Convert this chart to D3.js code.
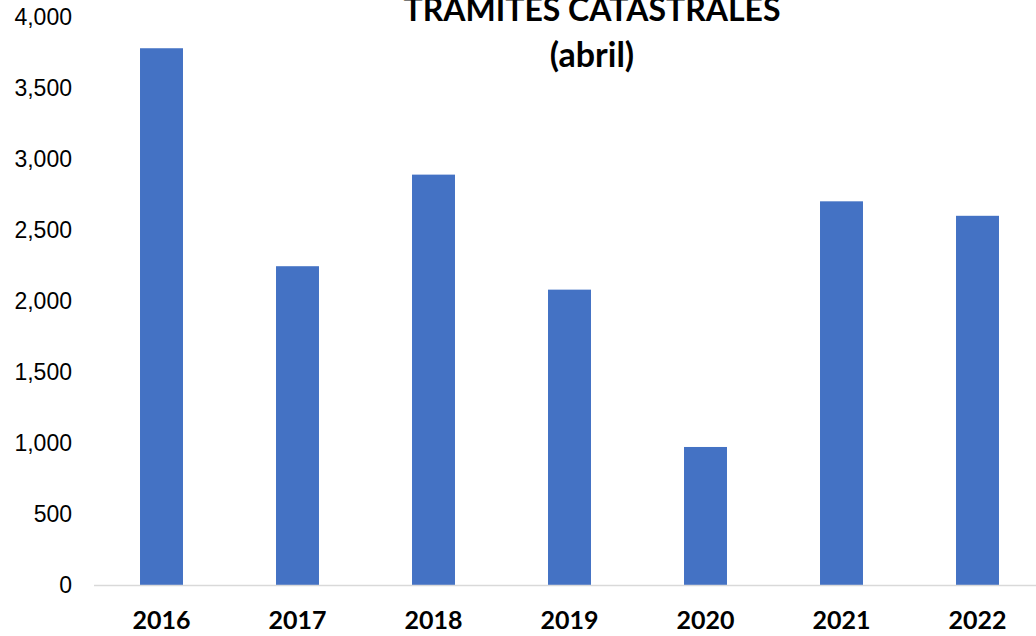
<!DOCTYPE html>
<html>
<head>
<meta charset="utf-8">
<script src="https://cdn.jsdelivr.net/npm/d3@7"></script>
<style>
  body { margin: 0; background: #fff; }
  svg { display: block; }
</style>
</head>
<body>
<svg></svg>
<script>
var width = 1036;
var height = 636;

var years = ["2016", "2017", "2018", "2019", "2020", "2021", "2022"];
var tramites = [3780, 2245, 2890, 2080, 972, 2702, 2600];
var yTicks = [0, 500, 1000, 1500, 2000, 2500, 3000, 3500, 4000];

var svg = d3.select("svg")
  .attr("width", width)
  .attr("height", height);

// plot area runs a bit past the right edge, like the cropped original
var x = d3.scaleBand()
  .domain(years)
  .range([93.5, 1045.5])
  .paddingInner(0.684)
  .paddingOuter(0.342);

var y = d3.scaleLinear()
  .domain([0, 4000])
  .range([585, 17]);

var yAxis = d3.axisLeft(y)
  .tickValues(yTicks)
  .tickSize(0)
  .tickPadding(22)
  .tickFormat(d3.format(","));

svg.append("g")
  .attr("transform", "translate(94,0)")
  .call(yAxis)
  .call(function(g) { g.select(".domain").remove(); })
  .selectAll("text")
    .style("font-family", "'Liberation Sans', Arial, sans-serif")
    .style("font-size", "23px")
    .style("fill", "#000");

svg.selectAll(".bar")
  .data(tramites)
  .enter().append("rect")
    .attr("class", "bar")
    .attr("x", function(d, i) { return x(years[i]); })
    .attr("width", x.bandwidth())
    .attr("y", function(d) { return y(d); })
    .attr("height", function(d) { return y(0) - y(d); })
    .style("fill", "#4472c4");

var xAxis = d3.axisBottom(x)
  .tickSize(0)
  .tickPadding(26);

svg.append("g")
  .attr("transform", "translate(0," + y(0) + ")")
  .call(xAxis)
  .call(function(g) {
    g.select(".domain").attr("stroke", "#d9d9d9").attr("stroke-width", 1.5);
  })
  .selectAll("text")
    .style("font-family", "Lato, 'Open Sans', sans-serif")
    .style("font-weight", "bold")
    .style("font-size", "25px")
    .style("fill", "#000");

var title = svg.append("text")
  .attr("x", 592)
  .attr("y", 21)
  .attr("text-anchor", "middle")
  .style("font-family", "Lato, 'Open Sans', sans-serif")
  .style("font-weight", "bold")
  .style("fill", "#000");

title.append("tspan").attr("x", 592).style("font-size", "32px").text("TRAMITES CATASTRALES");
title.append("tspan").attr("x", 592).attr("dy", 46).style("font-size", "34px").text("(abril)");
</script>
</body>
</html>
